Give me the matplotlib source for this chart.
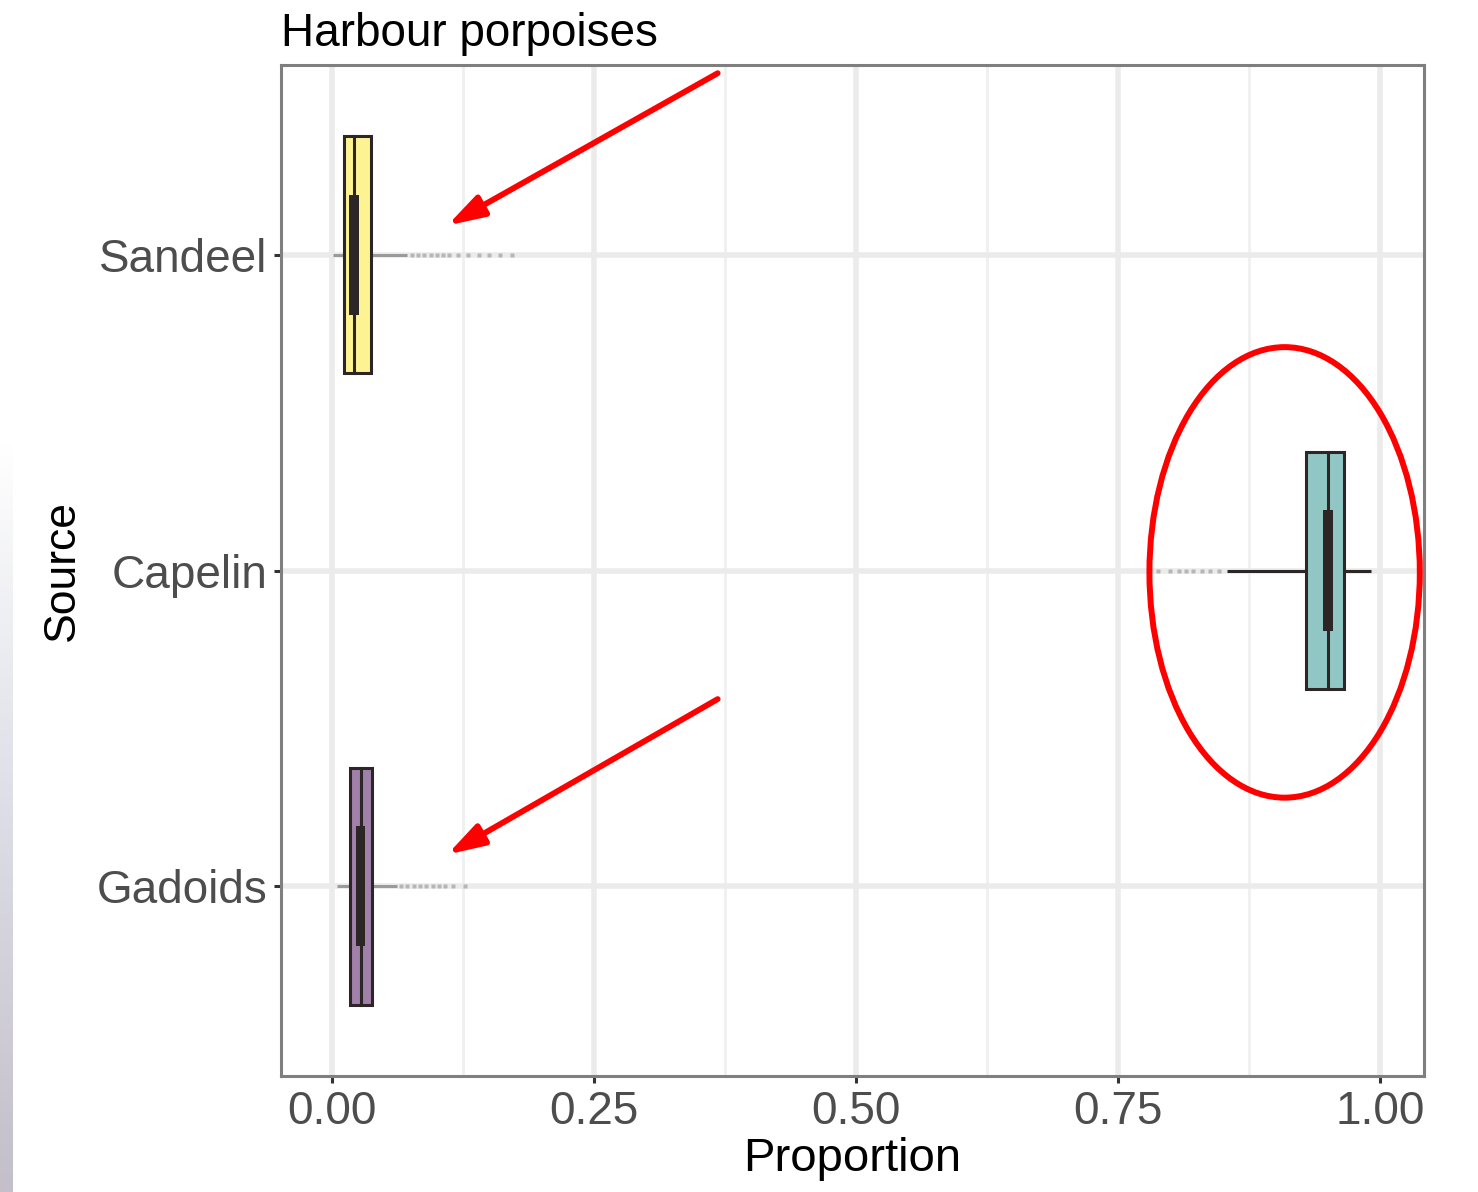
import numpy as np
import matplotlib
matplotlib.use("Agg")
import matplotlib.pyplot as plt
from matplotlib.patches import Rectangle, Ellipse
from matplotlib.colors import LinearSegmentedColormap

plt.rcParams['font.family'] = ['Liberation Sans', 'DejaVu Sans']

# data
sources = ['Gadoids', 'Capelin', 'Sandeel']
q25 = [0.017, 0.929, 0.0115]
q75 = [0.038, 0.966, 0.037]
medians = [0.028, 0.950, 0.021]
inner_lo = [0.023, 0.946, 0.016]
inner_hi = [0.031, 0.955, 0.026]
whisk_lo = [0.005, 0.854, 0.001]
whisk_hi = [0.062, 0.991, 0.072]
outliers = [
    [0.066, 0.072, 0.078, 0.084, 0.090, 0.096, 0.102, 0.108, 0.115, 0.127],
    [0.788, 0.800, 0.808, 0.815, 0.822, 0.830, 0.838, 0.846],
    [0.076, 0.082, 0.088, 0.094, 0.100, 0.106, 0.112, 0.120, 0.130, 0.140, 0.150, 0.160, 0.172],
]
fills = ['#a180a9', '#90c7c5', '#fef392']
whisk_cols = ['#9a9a9a', '#2d2626', '#9a9a9a']

dark = '#2d2626'
box_w = 0.75
inner_w = 0.38

fig = plt.figure(figsize=(14.78, 11.92), dpi=100)

# faint slide background strip on the far left
bg = fig.add_axes([0, 0, 13 / 1478, (1192 - 440) / 1192])
grad = np.linspace(0, 1, 200).reshape(-1, 1)
bg.imshow(grad, aspect='auto', origin='upper',
          cmap=LinearSegmentedColormap.from_list('g', ['#ffffff', '#dcdde6', '#c4bfc8']))
bg.axis('off')

ax = fig.add_axes([281 / 1478, 1 - 1076 / 1192, (1424 - 281) / 1478, (1076 - 65) / 1192])

ys = np.arange(1, len(sources) + 1)
for i, y in enumerate(ys):
    # whisker
    ax.plot([whisk_lo[i], whisk_hi[i]], [y, y], color=whisk_cols[i], lw=2.2, zorder=3,
            solid_capstyle='butt')
    # outliers
    ax.plot(outliers[i], [y] * len(outliers[i]), ls='none', marker='s', ms=3,
            color='#555555', alpha=0.35, mec='none', zorder=3)
    # box
    ax.add_patch(Rectangle((q25[i], y - box_w / 2), q75[i] - q25[i], box_w,
                           facecolor=fills[i], edgecolor=dark, lw=2.2, zorder=4))
    # median
    ax.plot([medians[i], medians[i]], [y - box_w / 2, y + box_w / 2], color=dark, lw=2.2, zorder=5)
    # inner bar
    ax.add_patch(Rectangle((inner_lo[i], y - inner_w / 2), inner_hi[i] - inner_lo[i], inner_w,
                           facecolor=dark, edgecolor='none', zorder=6))

ax.set_xlim(-0.0487, 1.042)
ax.set_ylim(0.4, 3.6)
ax.set_yticks(ys)
ax.set_yticklabels(sources)
ax.set_xticks([0, 0.25, 0.5, 0.75, 1.0])
ax.set_xticklabels(['0.00', '0.25', '0.50', '0.75', '1.00'])
ax.set_xticks([0.125, 0.375, 0.625, 0.875], minor=True)
ax.tick_params(axis='both', which='major', labelsize=33, colors='#333333', labelcolor='#4d4d4d',
               length=5, width=2.2, pad=5)
ax.tick_params(axis='x', which='minor', length=0)

ax.grid(which='major', color='#ebebeb', lw=4)
ax.grid(which='minor', axis='x', color='#f0f0f0', lw=2)
ax.set_axisbelow(True)
for s in ax.spines.values():
    s.set_color('#7f7f7f')
    s.set_linewidth(2.2)

ax.set_xlabel('Proportion', fontsize=34, labelpad=2)
ax.set_ylabel('Source', fontsize=32, labelpad=10)
ax.set_title('Harbour porpoises', fontsize=33, loc='left', pad=14)

# red annotations
ax.add_patch(Ellipse((0.909, 1.994), 0.258, 1.426, fill=False, edgecolor='red', lw=4.3, zorder=7))
for tail, head in [((0.368, 3.574), (0.110, 3.092)), ((0.368, 1.593), (0.110, 1.101))]:
    ax.annotate('', xy=head, xytext=tail, zorder=7,
                arrowprops=dict(arrowstyle='-|>,head_length=0.55,head_width=0.17', color='red',
                                lw=4.2, mutation_scale=40, shrinkA=0, shrinkB=0))

fig.savefig('out.png', dpi=100)
